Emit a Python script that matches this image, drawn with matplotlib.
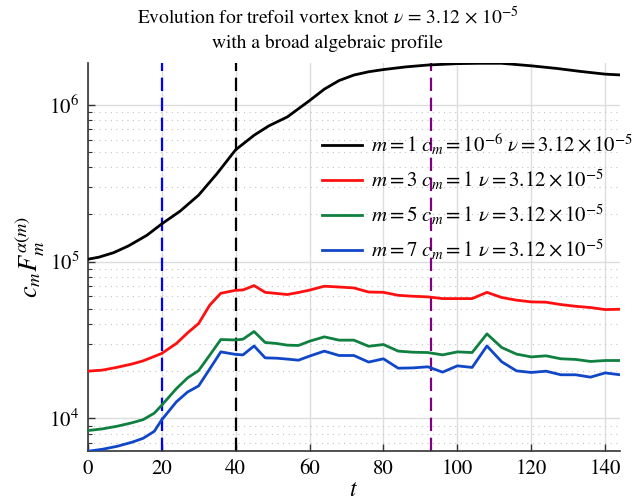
import matplotlib
matplotlib.use("Agg")
import matplotlib.pyplot as plt
import numpy as np

plt.rcParams['font.family'] = ['STIXGeneral', 'DejaVu Serif']
plt.rcParams['mathtext.fontset'] = 'stix'

# ---------------- data ----------------
t_m1 = [0, 3, 7, 11, 16, 20, 25, 30, 35, 40, 45, 49, 54, 60, 64, 68, 72, 76, 80,
        86, 92, 100, 106, 112, 120, 127, 133, 140, 144]
F_m1 = [103500, 106700, 114000, 125900, 147200, 173800, 209900, 265500, 364800,
        516400, 639700, 734500, 837500, 1064000, 1259000, 1429000, 1549000,
        1626000, 1679000, 1746000, 1795000, 1832000, 1841000, 1841000, 1774000,
        1706000, 1637000, 1570000, 1552000]

t_m = [0, 4, 8, 12, 15, 18, 20, 24, 27, 30, 33, 36, 40, 42, 45, 48, 51, 54, 57,
       60, 64, 68, 72, 76, 80, 84, 88, 92, 96, 100, 104, 108, 112, 116, 120, 124,
       128, 132, 136, 140, 144]
F_m3 = [20000, 20320, 21180, 22230, 23280, 24830, 25940, 30060, 35080, 40270,
        52720, 62810, 65610, 65920, 70310, 63680, 62660, 61660, 63530, 65770,
        69660, 68870, 67920, 63970, 63680, 60950, 60120, 59570, 58080, 58080,
        58080, 63680, 59020, 56750, 55340, 55080, 53210, 51880, 50930, 49430, 49660]
F_m5 = [8356, 8570, 8913, 9376, 9817, 10790, 12110, 15490, 18110, 20180, 25290,
        31840, 31620, 31990, 35810, 30480, 30060, 29310, 29170, 31050, 33110,
        31550, 31550, 28840, 29580, 26850, 26420, 26300, 25410, 26550, 26300,
        34590, 28310, 25700, 24660, 25060, 23990, 23770, 23070, 23390, 23390]
F_m7 = [6166, 6353, 6637, 7047, 7464, 8260, 9772, 12760, 14720, 16110, 20650,
        26550, 25590, 25410, 28970, 24320, 24210, 23880, 23500, 24950, 26850,
        25180, 25180, 22860, 23990, 20890, 20990, 21330, 19720, 21630, 21130,
        28970, 22960, 20090, 19630, 20000, 18970, 18970, 18320, 19500, 18970]

labels = [r"$m = 1\ c_m = 10^{-6}\ \nu = 3.12 \times 10^{-5}$",
          r"$m = 3\ c_m = 1\ \nu = 3.12 \times 10^{-5}$",
          r"$m = 5\ c_m = 1\ \nu = 3.12 \times 10^{-5}$",
          r"$m = 7\ c_m = 1\ \nu = 3.12 \times 10^{-5}$"]
vlines_t = [20, 40, 93]
vlines_c = ['#0000ff', '#000000', '#800080']

# ---------------- figure ----------------
fig = plt.figure(figsize=(6.38, 5.04), dpi=100)
ax = fig.add_axes([0.1375, 0.1046, 0.8343, 0.7698])

ax.plot(t_m1, F_m1, color='black', lw=2.0, label=labels[0], zorder=3)
ax.plot(t_m, F_m3, color='#ff1010', lw=2.0, label=labels[1], zorder=3)
ax.plot(t_m, F_m5, color='#108040', lw=2.0, label=labels[2], zorder=3)
ax.plot(t_m, F_m7, color='#1046c8', lw=2.0, label=labels[3], zorder=3)

for tv, c in zip(vlines_t, vlines_c):
    ax.axvline(tv, color=c, lw=1.6, ls=(0, (6, 3)), zorder=2)

ax.set_yscale('log')
ax.set_xlim(0, 144)
allv = F_m1 + F_m3 + F_m5 + F_m7
ax.set_ylim(min(allv), max(allv))
ax.set_xticks(np.arange(0, 141, 20))

ax.grid(True, which='major', color='#dddddd', lw=1.0, ls='-', zorder=0)
ax.grid(True, which='minor', axis='y', color='#c4c4c4', lw=0.8, ls=(0, (1, 4)), zorder=0)

for s in ['top', 'right']:
    ax.spines[s].set_visible(False)
for s in ['left', 'bottom']:
    ax.spines[s].set_color('#333333')
    ax.spines[s].set_linewidth(1.2)

ax.tick_params(which='major', direction='in', length=5, width=1, color='#333333',
               labelsize=15, pad=6)
ax.tick_params(which='minor', direction='in', length=3, width=0.8, color='#333333')
ax.tick_params(axis='x', which='minor', bottom=False)

ax.set_xlabel(r"$t$", fontsize=17, labelpad=0)
ax.set_ylabel(r"$c_mF_m^{\alpha(m)}$", fontsize=19, labelpad=2)

fig.text(0.514, 0.966, r"Evolution for trefoil vortex knot $\nu$ = 3.12 $\times$ 10$^{-5}$",
         ha='center', va='center', fontsize=14)
fig.text(0.514, 0.914, "with a broad algebraic profile", ha='center', va='center', fontsize=14)

leg = ax.legend(loc='upper left', bbox_to_anchor=(0.425, 0.843), frameon=False,
                fontsize=15, handlelength=1.9, handletextpad=0.45, labelspacing=0.5,
                borderaxespad=0)

fig.savefig('out.png', dpi=100)
